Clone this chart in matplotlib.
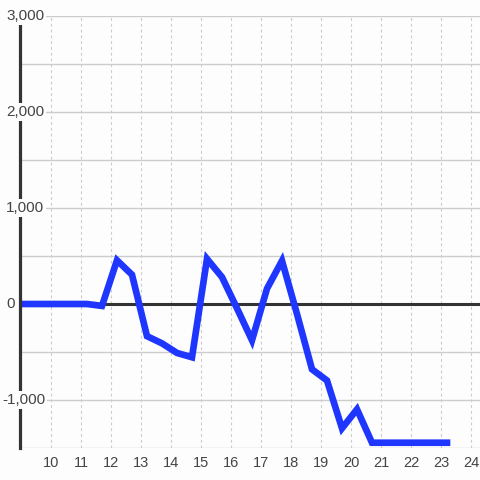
import numpy as np
import matplotlib
matplotlib.use("Agg")
import matplotlib.pyplot as plt
import matplotlib.transforms as mtransforms

# Data
x_vals = [8.7, 9.2, 9.7, 10.2, 10.7, 11.2, 11.7, 12.2, 12.7, 13.2,
          13.7, 14.2, 14.7, 15.2, 15.7, 16.2, 16.7, 17.2, 17.7, 18.2,
          18.7, 19.2, 19.7, 20.2, 20.7, 21.2, 21.7, 22.2, 22.7, 23.2]
y_vals = [0, 0, 0, 0, 0, 0, -20, 455, 305, -335,
          -410, -510, -555, 470, 280, -45, -378, 160, 450, -104,
          -680, -797, -1295, -1097, -1445, -1445, -1445, -1445, -1445, -1445]
x_ticks = list(range(10, 25))
y_ticks = [-1000, 0, 1000, 2000, 3000]
y_labels = ["-1,000", "0", "1,000", "2,000", "3,000"]

plt.rcParams['font.family'] = ['Liberation Sans', 'DejaVu Sans']

fig = plt.figure(figsize=(4.8, 4.8), dpi=100)
fig.patch.set_facecolor('#fcfdfc')
ax = fig.add_axes([20 / 480, 32 / 480, 460 / 480, 432 / 480])
ax.set_facecolor('#fcfdfc')

ax.set_xlim(8.967, 24.3)
ax.set_ylim(-1500, 3000)

# grid
for yv in np.arange(-1500, 3001, 500):
    ax.axhline(yv, color='#cccccc', lw=1.0, zorder=1)
for xv in x_ticks:
    ax.axvline(xv, color='#cccccc', lw=0.8, ls=(0, (2.6, 2.6)), zorder=1)

# zero line
ax.axhline(0, color='#333333', lw=2.2, zorder=2)

# series
ax.plot(x_vals, y_vals, color='#1f36ff', lw=4.8, solid_joinstyle='miter',
        solid_capstyle='projecting', zorder=3)

for s in ['top', 'right', 'bottom']:
    ax.spines[s].set_visible(False)
ax.spines['left'].set_color('#333333')
ax.spines['left'].set_linewidth(2.3)
ax.spines['left'].set_zorder(4)

ax.set_xticks(x_ticks)
ax.set_xticklabels([str(v) for v in x_ticks])
ax.tick_params(axis='x', length=0, pad=6, labelsize=10.5, labelcolor='#444444')
ax.set_yticks([])

# y labels drawn over the spine
trans = mtransforms.blended_transform_factory(ax.transAxes, ax.transData)
for yv, lab in zip(y_ticks, y_labels):
    off = -18 / 460 if lab.startswith('-') else -14 / 460
    ax.text(off, yv, lab, transform=trans, ha='left', va='center',
            fontsize=11, color='#444444', zorder=6, clip_on=False,
            bbox=dict(boxstyle='square,pad=0.1', fc='#fcfdfc', ec='none'))

fig.savefig("out.png", dpi=100, facecolor=fig.get_facecolor())
